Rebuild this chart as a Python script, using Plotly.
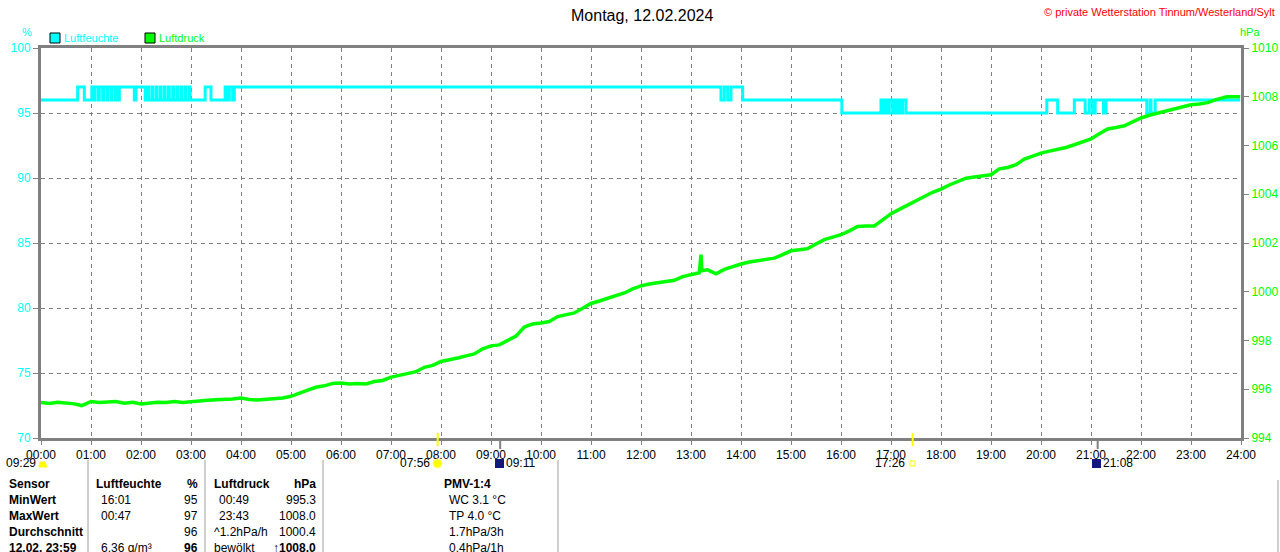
import plotly.graph_objects as go

# Luftfeuchte (%), Stufenwerte
hum_time = ["00:00", "00:44", "00:52",
            "01:01", "01:04", "01:05", "01:09", "01:10", "01:14", "01:15", "01:19", "01:20",
            "01:24", "01:25", "01:29", "01:30", "01:33", "01:34",
            "01:52", "01:54", "02:05", "02:08", "02:09", "02:13", "02:14", "02:18", "02:19",
            "02:23", "02:24", "02:28", "02:29", "02:33", "02:34", "02:38", "02:39", "02:43",
            "02:44", "02:48", "02:49", "02:53", "02:54", "02:58", "02:59", "03:04",
            "03:17", "03:24", "03:41", "03:44", "03:46", "03:50", "03:52", "03:56",
            "13:36", "13:40", "13:44", "13:48", "14:02", "16:01",
            "16:48", "16:51", "16:53", "16:56", "16:58", "17:02", "17:04", "17:07", "17:09",
            "17:12", "17:14", "17:18",
            "20:07", "20:20", "20:40", "20:53", "20:58", "21:02", "21:05", "21:15", "21:18",
            "22:07", "22:11", "22:12", "22:17", "23:59"]
hum_val = [96, 97, 96,
           97, 96, 97, 96, 97, 96, 97, 96, 97,
           96, 97, 96, 97, 96, 97,
           96, 97, 96, 97, 96, 97, 96, 97, 96,
           97, 96, 97, 96, 97, 96, 97, 96, 97,
           96, 97, 96, 97, 96, 97, 96, 96,
           97, 96, 97, 96, 97, 96, 97, 97,
           96, 97, 96, 97, 96, 95,
           96, 95, 96, 95, 96, 95, 96, 95, 96,
           95, 96, 95,
           96, 95, 96, 95, 96, 95, 96, 95, 96,
           95, 96, 95, 96, 96]

# Luftdruck (hPa)
prs_time = ["00:00", "00:10", "00:20", "00:30", "00:40", "00:49", "01:00", "01:10", "01:20", "01:30",
            "01:40", "01:50", "02:00", "02:10", "02:20", "02:30", "02:40", "02:50", "03:00", "03:10",
            "03:20", "03:30", "03:40", "03:50", "04:00", "04:10", "04:20", "04:30", "04:40", "04:50",
            "05:00", "05:10", "05:20", "05:30", "05:40", "05:50", "06:00", "06:10", "06:20", "06:30",
            "06:40", "06:50", "07:00", "07:10", "07:20", "07:30", "07:40", "07:50", "08:00", "08:10",
            "08:20", "08:30", "08:40", "08:50", "09:00", "09:10", "09:20", "09:30", "09:40", "09:50",
            "10:00", "10:10", "10:20", "10:30", "10:40", "10:50", "11:00", "11:10", "11:20", "11:30",
            "11:40", "11:50", "12:00", "12:10", "12:20", "12:30", "12:40", "12:50", "13:00", "13:10",
            "13:12", "13:13", "13:20", "13:30", "13:40", "13:50", "14:00", "14:10", "14:20", "14:30",
            "14:40", "14:50", "15:00", "15:10", "15:20", "15:30", "15:40", "15:50", "16:00", "16:10",
            "16:20", "16:30", "16:40", "16:50", "17:00", "17:10", "17:20", "17:30", "17:40", "17:50",
            "18:00", "18:10", "18:20", "18:30", "18:40", "18:50", "19:00", "19:10", "19:20", "19:30",
            "19:40", "19:50", "20:00", "20:10", "20:20", "20:30", "20:40", "20:50", "21:00", "21:10",
            "21:20", "21:30", "21:40", "21:50", "22:00", "22:10", "22:20", "22:30", "22:40", "22:50",
            "23:00", "23:10", "23:20", "23:30", "23:43", "23:50", "23:59"]
prs_val = [995.46, 995.42, 995.47, 995.44, 995.40, 995.33, 995.50, 995.46, 995.47, 995.50,
           995.43, 995.47, 995.40, 995.44, 995.47, 995.46, 995.50, 995.46, 995.50, 995.53,
           995.55, 995.57, 995.58, 995.60, 995.64, 995.58, 995.56, 995.58, 995.60, 995.64,
           995.71, 995.85, 995.96, 996.08, 996.14, 996.24, 996.26, 996.22, 996.24, 996.22,
           996.32, 996.36, 996.50, 996.57, 996.65, 996.72, 996.90, 996.98, 997.14, 997.20,
           997.28, 997.37, 997.45, 997.66, 997.78, 997.82, 998.02, 998.18, 998.55, 998.68,
           998.72, 998.78, 998.98, 999.05, 999.13, 999.32, 999.52, 999.62, 999.72, 999.85,
           999.95, 1000.12, 1000.24, 1000.32, 1000.38, 1000.43, 1000.47, 1000.62, 1000.70, 1000.78,
           1001.52, 1000.86, 1000.90, 1000.74, 1000.92, 1001.04, 1001.14, 1001.22, 1001.27, 1001.30,
           1001.38, 1001.52, 1001.68, 1001.72, 1001.77, 1001.96, 1002.14, 1002.24, 1002.34, 1002.50,
           1002.68, 1002.70, 1002.70, 1002.95, 1003.20, 1003.38, 1003.57, 1003.72, 1003.91, 1004.08,
           1004.21, 1004.38, 1004.53, 1004.66, 1004.71, 1004.75, 1004.80, 1005.04, 1005.10, 1005.21,
           1005.44, 1005.56, 1005.69, 1005.77, 1005.83, 1005.92, 1006.03, 1006.14, 1006.27, 1006.48,
           1006.68, 1006.74, 1006.81, 1006.97, 1007.13, 1007.24, 1007.33, 1007.42, 1007.51, 1007.59,
           1007.67, 1007.70, 1007.76, 1007.88, 1008.00, 1008.00, 1008.00]

hour_labels = ["%02d:00" % h for h in range(25)]
hum_ticks = [70, 75, 80, 85, 90, 95, 100]
prs_ticks = [994, 996, 998, 1000, 1002, 1004, 1006, 1008, 1010]

# Tabelle unten
table_rows = [
    ["Sensor", "Luftfeuchte", "%", "Luftdruck", "hPa", "PMV-1:4"],
    ["MinWert", "16:01", "95", "00:49", "995.3", "WC 3.1 °C"],
    ["MaxWert", "00:47", "97", "23:43", "1008.0", "TP 4.0 °C"],
    ["Durchschnitt", "", "96", "^1.2hPa/h", "1000.4", "1.7hPa/3h"],
    ["12.02. 23:59", "6.36 g/m³", "96", "bewölkt", "↑1008.0", "0.4hPa/1h"],
]

# Sonne / Mond
astro_times = ["09:29", "07:56", "09:11", "17:26", "21:08"]

CYAN = "#00ffff"
GREEN = "#00ff00"
GRAY = "#808080"
FONT = "Liberation Sans"

L, R, T, B = 41, 1241, 48, 438


def hrs(s):
    h, m = s.split(":")
    return int(h) + int(m) / 60


def px(X):
    return (X - L) / (R - L)


def py(Y):
    return (B - Y) / (B - T)


fig = go.Figure()
fig.add_trace(go.Scatter(x=[hrs(t) for t in hum_time], y=hum_val, mode="lines",
                         line=dict(color=CYAN, width=3, shape="hv"), yaxis="y"))
fig.add_trace(go.Scatter(x=[hrs(t) for t in prs_time], y=prs_val, mode="lines",
                         line=dict(color=GREEN, width=3.5), yaxis="y2"))

fig.update_layout(
    width=1280, height=552,
    margin=dict(l=L, r=1280 - R, t=T, b=552 - B, autoexpand=False),
    paper_bgcolor="white", plot_bgcolor="white",
    showlegend=False,
    font=dict(family=FONT, size=11, color="black"),
    xaxis=dict(range=[0, 24], tickvals=list(range(25)), ticktext=hour_labels,
               showgrid=True, gridcolor=GRAY, griddash="4px,4px", gridwidth=1,
               showline=True, linecolor=GRAY, linewidth=3, mirror=True,
               ticks="outside", ticklen=4, tickcolor=GRAY, zeroline=False,
               tickfont=dict(size=12, color="black")),
    yaxis=dict(range=[70, 100], tickvals=hum_ticks,
               showgrid=True, gridcolor=GRAY, griddash="4px,4px", gridwidth=1,
               showline=True, linecolor=GRAY, linewidth=3,
               ticks="outside", ticklen=5, tickcolor=GRAY, zeroline=False,
               tickfont=dict(size=12, color=CYAN)),
    yaxis2=dict(range=[994, 1010], tickvals=prs_ticks, overlaying="y", side="right",
                showgrid=False, showline=True, linecolor=GRAY, linewidth=3,
                ticks="outside", ticklen=5, tickcolor=GRAY, zeroline=False,
                tickfont=dict(size=12, color=GREEN)),
)

ann = []
shapes = []


def text(X, Y, s, color="black", size=12, anchor="left", bold=False):
    if bold:
        s = "<b>" + s + "</b>"
    ann.append(dict(x=px(X), y=py(Y), xref="paper", yref="paper", text=s, showarrow=False,
                    xanchor=anchor, yanchor="middle", borderpad=0,
                    font=dict(family=FONT, size=size, color=color)))


text(642, 15, "Montag, 12.02.2024", size=16, anchor="center")
text(1276, 12, "© private Wetterstation Tinnum/Westerland/Sylt", color="red", size=11, anchor="right")
text(27, 32, "%", color=CYAN, size=11, anchor="center")
text(1250, 32, "hPa", color=GREEN, size=11, anchor="center")
text(63, 38, "Luftfeuchte", color=CYAN, size=11)
text(158, 38, "Luftdruck", color=GREEN, size=11)
for x0, c in [(50, CYAN), (145, GREEN)]:
    shapes.append(dict(type="rect", xref="paper", yref="paper", x0=px(x0), x1=px(x0 + 10),
                       y0=py(43), y1=py(33), fillcolor=c, line=dict(color="black", width=1)))

# Sonnen- und Mondzeiten unter der Achse
for t, c in [(astro_times[1], "#ffff00"), (astro_times[3], "#ffff00")]:
    shapes.append(dict(type="line", xref="x", yref="paper", x0=hrs(t), x1=hrs(t),
                       y0=py(446), y1=py(433), line=dict(color=c, width=2)))
for t in [astro_times[2], astro_times[4]]:
    shapes.append(dict(type="line", xref="x", yref="paper", x0=hrs(t), x1=hrs(t),
                       y0=py(449), y1=py(438), line=dict(color=GRAY, width=2)))
text(37, 463, astro_times[0], anchor="right")
shapes.append(dict(type="path", xref="paper", yref="paper",
                   path="M %f,%f L %f,%f L %f,%f L %f,%f Z" % (px(39), py(467), px(40), py(462), px(45), py(462), px(47), py(467)),
                   fillcolor="#ffff00", line=dict(color="#ffff00", width=1)))
text(431, 463, astro_times[1], anchor="right")
shapes.append(dict(type="circle", xref="paper", yref="paper", x0=px(433), x1=px(442),
                   y0=py(468), y1=py(459), fillcolor="#ffff00", line=dict(color="#ffff80", width=1)))
shapes.append(dict(type="rect", xref="paper", yref="paper", x0=px(495), x1=px(504),
                   y0=py(468), y1=py(459), fillcolor="#101880", line=dict(width=0)))
text(505, 463, astro_times[2])
text(906, 463, astro_times[3], anchor="right")
shapes.append(dict(type="rect", xref="paper", yref="paper", x0=px(910), x1=px(915),
                   y0=py(466), y1=py(461), line=dict(color="#ffff00", width=1)))
shapes.append(dict(type="rect", xref="paper", yref="paper", x0=px(1092), x1=px(1101),
                   y0=py(468), y1=py(459), fillcolor="#101880", line=dict(width=0)))
text(1102, 463, astro_times[4])

# Tabelle
row_y = [484, 500, 516, 532, 548]
for i, row in enumerate(table_rows):
    Y = row_y[i]
    head = i == 0
    text(8, Y, row[0], bold=True)
    text(95 if head else 100, Y, row[1], bold=head)
    text(199, Y, row[2], anchor="right", bold=head or i == 4)
    text(213 if head or i >= 3 else 218, Y, row[3], bold=head)
    text(317, Y, row[4], anchor="right", bold=head or i == 4)
    if head:
        text(467, Y, row[5], anchor="center", bold=True)
    else:
        text(448, Y, row[5])
for X in [88, 205, 323, 558]:
    shapes.append(dict(type="line", xref="paper", yref="paper", x0=px(X), x1=px(X),
                       y0=py(552), y1=py(460), line=dict(color="#a0a0a0", width=1)))
shapes.append(dict(type="line", xref="paper", yref="paper", x0=px(1278), x1=px(1278),
                   y0=py(552), y1=py(480), line=dict(color="#a0a0a0", width=1)))

fig.update_layout(annotations=ann, shapes=shapes)
fig.write_html("out.html", config={"displayModeBar": False},
               post_script="document.body.style.margin='0';")
